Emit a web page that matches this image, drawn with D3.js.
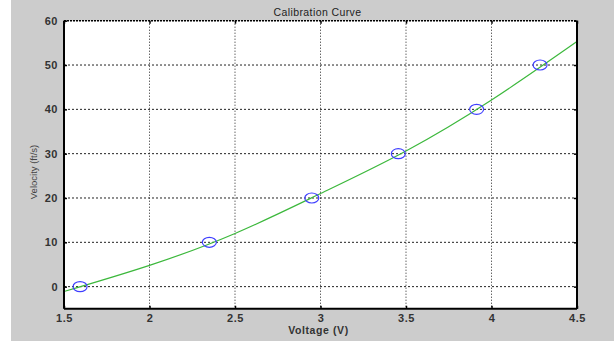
<!DOCTYPE html>
<html><head><meta charset="utf-8">
<script src="https://cdn.jsdelivr.net/npm/d3@7"></script>
<style>
html,body{margin:0;padding:0;background:#fff;}
svg{display:block;}
text{font-family:"Liberation Sans",Arial,sans-serif;}
</style></head>
<body>
<svg id="c" width="614" height="341"></svg>
<script>
// Data
const pointX = [1.594, 2.35, 2.949, 3.455, 3.913, 4.284];
const pointY = [0, 10, 20, 30, 40, 50];
const curveX = [1.5, 2.0, 2.5, 3.0, 3.5, 4.0, 4.5];
const curveY = [-1.1, 4.8, 12.0, 21.0, 30.6, 42.1, 55.3];
const xTicks = [1.5, 2, 2.5, 3, 3.5, 4, 4.5];
const yTicks = [0, 10, 20, 30, 40, 50, 60];
const title = "Calibration Curve";
const xLabel = "Voltage (V)";
const yLabel = "Velocity (ft/s)";

const svg = d3.select("#c");
svg.append("rect").attr("x", 11).attr("y", 0).attr("width", 603).attr("height", 341).attr("fill", "#cccccc");

const L = 64, R = 577, T = 20.7, B = 308.8;
const x = d3.scaleLinear().domain([1.5, 4.5]).range([L, R]);
const y = d3.scaleLinear().domain([-5, 60]).range([B, T]);

svg.append("rect").attr("x", L).attr("y", T).attr("width", R - L).attr("height", B - T).attr("fill", "#fff");

// grid
const g = svg.append("g");
g.selectAll("line.gx").data(xTicks.slice(1, -1)).enter().append("line")
  .attr("x1", d => x(d)).attr("x2", d => x(d)).attr("y1", T).attr("y2", B)
  .attr("stroke", "#222").attr("stroke-width", 1).attr("stroke-dasharray", "1,2");
g.selectAll("line.gy").data(yTicks.slice(0, -1)).enter().append("line")
  .attr("x1", L).attr("x2", R).attr("y1", d => y(d)).attr("y2", d => y(d))
  .attr("stroke", "#222").attr("stroke-width", 1).attr("stroke-dasharray", "2,2");

// curve
const line = d3.line().x(d => x(d[0])).y(d => y(d[1])).curve(d3.curveNatural);
svg.append("path").datum(curveX.map((v, i) => [v, curveY[i]]))
  .attr("d", line).attr("fill", "none").attr("stroke", "#3cb83c").attr("stroke-width", 1.2);

// markers
svg.selectAll("ellipse.p").data(pointX.map((v, i) => [v, pointY[i]])).enter().append("ellipse")
  .attr("cx", d => x(d[0])).attr("cy", d => y(d[1])).attr("rx", 7).attr("ry", 5)
  .attr("fill", "none").attr("stroke", "#3f3fff").attr("stroke-width", 1.2);

// axes
const ax = d3.axisBottom(x).tickValues(xTicks).tickSize(-3).tickPadding(5).tickFormat(d3.format("~g"));
const axT = d3.axisTop(x).tickValues(xTicks).tickSize(-3).tickFormat("");
const ay = d3.axisLeft(y).tickValues(yTicks).tickSize(-3).tickPadding(6).tickFormat(d3.format("~g"));
const ayR = d3.axisRight(y).tickValues(yTicks).tickSize(-3).tickFormat("");

function style(sel) {
  sel.selectAll(".domain").remove();
  sel.selectAll(".tick line").attr("stroke", "#000").attr("stroke-width", 1.5);
  sel.selectAll(".tick text").attr("fill", "#333").style("font-size", "11px").style("font-weight", "bold").style("letter-spacing", "0.5px");
}
svg.append("g").attr("transform", `translate(0,${B})`).call(ax).call(style);
svg.append("g").attr("transform", `translate(0,${T})`).call(axT).call(style);
svg.append("g").attr("transform", `translate(${L},0)`).call(ay).call(style);
svg.append("g").attr("transform", `translate(${R},0)`).call(ayR).call(style);

// frame
svg.append("line").attr("x1", L).attr("x2", R).attr("y1", T).attr("y2", T).attr("stroke", "#000").attr("stroke-width", 1.5).attr("stroke-dasharray", "2,1");
svg.append("line").attr("x1", L).attr("x2", R).attr("y1", B).attr("y2", B).attr("stroke", "#000").attr("stroke-width", 2);
svg.append("line").attr("x1", L).attr("x2", L).attr("y1", T).attr("y2", B).attr("stroke", "#000").attr("stroke-width", 2);
svg.append("line").attr("x1", R).attr("x2", R).attr("y1", T).attr("y2", B).attr("stroke", "#000").attr("stroke-width", 2);

// titles
svg.append("text").attr("x", (L + R) / 2 - 3).attr("y", 16).attr("text-anchor", "middle")
  .style("font-size", "10.5px").style("letter-spacing", "0.4px").attr("fill", "#222").text(title);
svg.append("text").attr("x", (L + R) / 2 - 2).attr("y", 334).attr("text-anchor", "middle")
  .style("font-size", "10.5px").style("font-weight", "bold").style("letter-spacing", "0.6px").attr("fill", "#333").text(xLabel);
svg.append("text").attr("transform", "translate(37,172) rotate(-90)").attr("text-anchor", "middle")
  .style("font-size", "9.5px").attr("fill", "#444").text(yLabel);
</script>
</body></html>
